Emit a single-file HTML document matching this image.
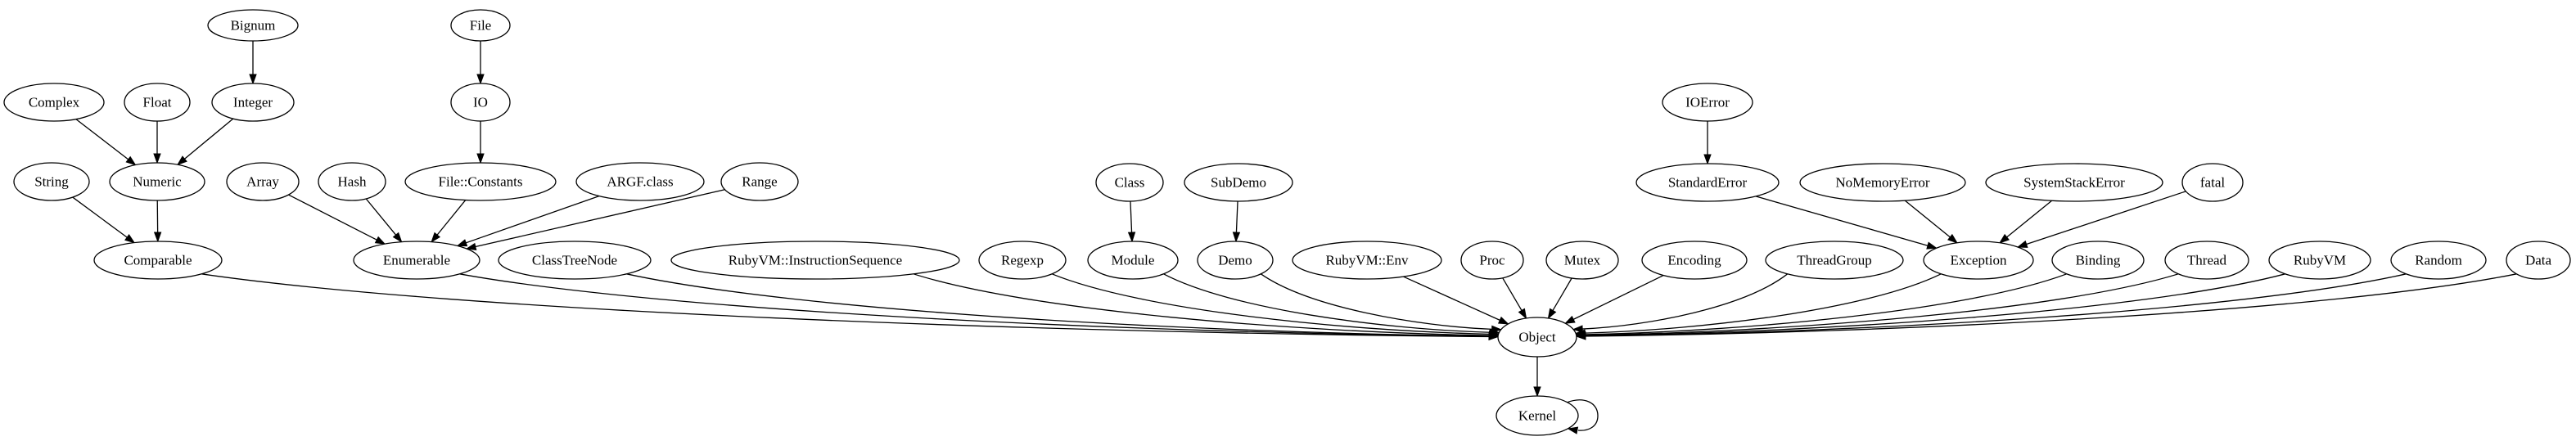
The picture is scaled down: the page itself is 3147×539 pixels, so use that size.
<!DOCTYPE html>
<html><head><meta charset="utf-8"><style>
html,body{margin:0;padding:0;background:#fff;}
svg{display:block;}
text{font-family:"Liberation Serif","Times New Roman",serif;font-size:17px;text-anchor:middle;dominant-baseline:central;fill:#000;}
ellipse{fill:#fff;stroke:#000;stroke-width:1.3;}
</style></head><body>
<svg id="g" width="3147" height="539" viewBox="0 0 3147 539" xmlns="http://www.w3.org/2000/svg">
<g id="edges" fill="none" stroke="#000" stroke-width="1.3"></g>
<g id="heads" fill="#000" stroke="#000" stroke-width="1"></g>
<g id="nodes">
<ellipse cx="309" cy="31" rx="55" ry="19"/><text x="309" y="31">Bignum</text>
<ellipse cx="587" cy="31" rx="36" ry="19"/><text x="587" y="31">File</text>
<ellipse cx="66" cy="125" rx="61" ry="23"/><text x="66" y="125">Complex</text>
<ellipse cx="192" cy="125" rx="40" ry="23"/><text x="192" y="125">Float</text>
<ellipse cx="309" cy="125" rx="50" ry="23"/><text x="309" y="125">Integer</text>
<ellipse cx="587" cy="125" rx="36" ry="23"/><text x="587" y="125">IO</text>
<ellipse cx="2086" cy="125" rx="55" ry="23"/><text x="2086" y="125">IOError</text>
<ellipse cx="63" cy="222" rx="46" ry="23"/><text x="63" y="222">String</text>
<ellipse cx="192" cy="222" rx="58" ry="23"/><text x="192" y="222">Numeric</text>
<ellipse cx="321" cy="222" rx="44" ry="23"/><text x="321" y="222">Array</text>
<ellipse cx="430" cy="222" rx="41" ry="23"/><text x="430" y="222">Hash</text>
<ellipse cx="587" cy="222" rx="92" ry="23"/><text x="587" y="222">File::Constants</text>
<ellipse cx="782" cy="222" rx="78" ry="23"/><text x="782" y="222">ARGF.class</text>
<ellipse cx="928" cy="222" rx="47" ry="23"/><text x="928" y="222">Range</text>
<ellipse cx="1380" cy="223" rx="41" ry="23"/><text x="1380" y="223">Class</text>
<ellipse cx="1513" cy="223" rx="66" ry="23"/><text x="1513" y="223">SubDemo</text>
<ellipse cx="2086" cy="223" rx="87" ry="23"/><text x="2086" y="223">StandardError</text>
<ellipse cx="2300" cy="223" rx="101" ry="23"/><text x="2300" y="223">NoMemoryError</text>
<ellipse cx="2534" cy="223" rx="108" ry="23"/><text x="2534" y="223">SystemStackError</text>
<ellipse cx="2703" cy="223" rx="37" ry="23"/><text x="2703" y="223">fatal</text>
<ellipse cx="193" cy="318" rx="78" ry="23"/><text x="193" y="318">Comparable</text>
<ellipse cx="509" cy="318" rx="77" ry="23"/><text x="509" y="318">Enumerable</text>
<ellipse cx="702" cy="318" rx="93" ry="23"/><text x="702" y="318">ClassTreeNode</text>
<ellipse cx="996" cy="318" rx="176" ry="23"/><text x="996" y="318">RubyVM::InstructionSequence</text>
<ellipse cx="1249" cy="318" rx="53" ry="23"/><text x="1249" y="318">Regexp</text>
<ellipse cx="1384" cy="318" rx="55" ry="23"/><text x="1384" y="318">Module</text>
<ellipse cx="1509" cy="318" rx="46" ry="23"/><text x="1509" y="318">Demo</text>
<ellipse cx="1670" cy="318" rx="91" ry="23"/><text x="1670" y="318">RubyVM::Env</text>
<ellipse cx="1823" cy="318" rx="38" ry="23"/><text x="1823" y="318">Proc</text>
<ellipse cx="1933" cy="318" rx="44" ry="23"/><text x="1933" y="318">Mutex</text>
<ellipse cx="2070" cy="318" rx="64" ry="23"/><text x="2070" y="318">Encoding</text>
<ellipse cx="2241" cy="318" rx="84" ry="23"/><text x="2241" y="318">ThreadGroup</text>
<ellipse cx="2417" cy="318" rx="67" ry="23"/><text x="2417" y="318">Exception</text>
<ellipse cx="2563" cy="318" rx="56" ry="23"/><text x="2563" y="318">Binding</text>
<ellipse cx="2696" cy="318" rx="51" ry="23"/><text x="2696" y="318">Thread</text>
<ellipse cx="2834" cy="318" rx="62" ry="23"/><text x="2834" y="318">RubyVM</text>
<ellipse cx="2979" cy="318" rx="58" ry="23"/><text x="2979" y="318">Random</text>
<ellipse cx="3101" cy="318" rx="39" ry="23"/><text x="3101" y="318">Data</text>
<ellipse cx="1878" cy="412" rx="48" ry="24"/><text x="1878" y="412">Object</text>
<ellipse cx="1878" cy="508" rx="50" ry="24"/><text x="1878" y="508">Kernel</text>
</g>
</svg>
<script>
(function(){
var N={};
document.querySelectorAll('#nodes ellipse').forEach(function(e){
  var t=e.nextElementSibling.textContent;
  N[t]={x:+e.getAttribute('cx'),y:+e.getAttribute('cy'),rx:+e.getAttribute('rx'),ry:+e.getAttribute('ry')};
});
function bp(n,dx,dy){var k=1/Math.sqrt(dx*dx/(n.rx*n.rx)+dy*dy/(n.ry*n.ry));return [n.x+dx*k,n.y+dy*k];}
var E=[["Bignum","Integer"],["File","IO"],["Complex","Numeric"],["Float","Numeric"],["Integer","Numeric"],["IO","File::Constants"],
["String","Comparable"],["Numeric","Comparable"],["Array","Enumerable"],["Hash","Enumerable"],["File::Constants","Enumerable"],["ARGF.class","Enumerable"],["Range","Enumerable"],
["Class","Module"],["SubDemo","Demo"],["IOError","StandardError"],["StandardError","Exception"],["NoMemoryError","Exception"],["SystemStackError","Exception"],["fatal","Exception"],
["Comparable","Object"],["Enumerable","Object"],["ClassTreeNode","Object"],["RubyVM::InstructionSequence","Object"],["Regexp","Object"],["Module","Object"],["Demo","Object"],["RubyVM::Env","Object"],["Proc","Object"],["Mutex","Object"],["Encoding","Object"],["ThreadGroup","Object"],["Exception","Object"],["Binding","Object"],["Thread","Object"],["RubyVM","Object"],["Random","Object"],["Data","Object"],["Object","Kernel"]];
var eg=document.getElementById('edges'),hg=document.getElementById('heads'),ns='http://www.w3.org/2000/svg';
function arrow(tip,ux,uy){var L=11,W=4,bx=tip[0]-ux*L,by=tip[1]-uy*L;
 var p=document.createElementNS(ns,'polygon');
 p.setAttribute('points',tip[0]+','+tip[1]+' '+(bx-uy*W)+','+(by+ux*W)+' '+(bx+uy*W)+','+(by-ux*W));hg.appendChild(p);return [bx,by];}
E.forEach(function(e){
 var s=N[e[0]],t=N[e[1]];var dx=t.x-s.x,dy=t.y-s.y;
 var path=document.createElementNS(ns,'path');
 if(e[1]!=="Object"||Math.abs(dx)<2.5*Math.abs(dy)){
   var a=bp(s,dx,dy),b=bp(t,-dx,-dy);var vx=b[0]-a[0],vy=b[1]-a[1],l=Math.hypot(vx,vy);
   var base=arrow(b,vx/l,vy/l);
   path.setAttribute('d','M'+a[0]+','+a[1]+'L'+base[0]+','+base[1]);
 } else {
   var sg=dx>0?1:-1;
   var f=Math.min(1,300/Math.abs(dx));
   var a=bp(s,sg*s.rx*0.7,s.ry*0.75);
   var b=bp(t,-dx,-dy*f);
   var ux=b[0]-a[0],uy=b[1]-a[1];
   var c1=[a[0]+ux*0.2,a[1]+uy*0.6];
   var c2=[b[0]-ux*0.35,b[1]-uy*0.06];
   var vx=b[0]-c2[0],vy=b[1]-c2[1],l=Math.hypot(vx,vy);
   var base=arrow(b,vx/l,vy/l);
   path.setAttribute('d','M'+a[0]+','+a[1]+'C'+c1[0]+','+c1[1]+' '+c2[0]+','+c2[1]+' '+base[0]+','+base[1]);
 }
 eg.appendChild(path);
});
var lp=document.createElementNS(ns,'path');
lp.setAttribute('d','M1914,492 C1935,484 1952,492 1952,508 C1952,522 1940,527 1928,526');eg.appendChild(lp);
arrow([1916,524],-0.98,-0.18);
})();
</script>
</body></html>
